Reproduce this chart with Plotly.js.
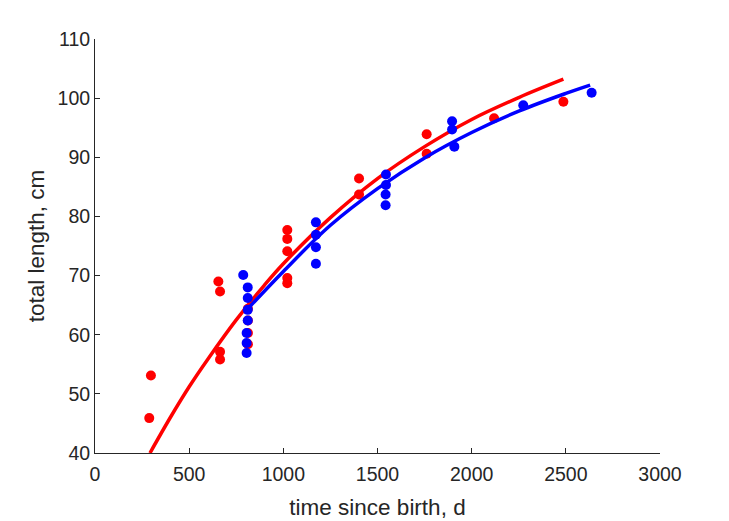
<!DOCTYPE html>
<html>
<head>
<meta charset="utf-8">
<script src="https://cdn.plot.ly/plotly-3.0.1.min.js"></script>
<style>html,body{margin:0;padding:0;background:#fff;}#chart{width:729px;height:521px;}</style>
</head>
<body>
<div id="chart"></div>
<script>
// Observed points, group 1 (red)
const redX = [297, 288, 655, 664, 664, 664, 812, 812, 812, 812, 1021, 1021, 1021, 1021, 1021, 1402, 1402, 1761, 1761, 2119, 2487];
const redY = [53.1, 45.9, 69.0, 67.3, 57.1, 55.8, 58.4, 60.3, 62.4, 64.4, 77.7, 76.2, 74.1, 69.6, 68.7, 86.4, 83.7, 93.9, 90.6, 96.6, 99.4];
// Observed points, group 2 (blue)
const blueX = [787, 811, 811, 811, 811, 805, 805, 805, 1173, 1173, 1173, 1173, 1545, 1545, 1543, 1543, 1896, 1896, 1908, 2274, 2637];
const blueY = [70.1, 68.0, 66.2, 64.2, 62.4, 60.3, 58.6, 56.9, 79.0, 76.9, 74.8, 72.0, 87.1, 85.3, 83.7, 81.9, 96.1, 94.7, 91.8, 98.8, 100.9];
// Fitted growth curves
const redCurveX = [292, 400, 500, 600, 750, 900, 1000, 1250, 1500, 1750, 2000, 2250, 2487];
const redCurveY = [40.0, 46.0, 51.2, 55.9, 62.5, 68.4, 72.0, 79.8, 86.4, 91.8, 96.4, 100.1, 103.2];
const blueCurveX = [806, 1000, 1250, 1500, 1750, 2000, 2250, 2500, 2629];
const blueCurveY = [64.2, 70.7, 78.5, 84.7, 89.9, 94.2, 97.8, 100.8, 102.2];
// Axis labels
const xTitle = 'time since birth, d';
const yTitle = 'total length, cm';

const RED = '#FF0000', BLUE = '#0000FF', INK = '#262626';
const FONT = 'Liberation Sans, Arial, Helvetica, sans-serif';

const traces = [
  {x: redX, y: redY, type: 'scatter', mode: 'markers', marker: {color: RED, size: 10}, hoverinfo: 'skip'},
  {x: redCurveX, y: redCurveY, type: 'scatter', mode: 'lines', line: {color: RED, width: 3.5, shape: 'spline'}, hoverinfo: 'skip'},
  {x: blueX, y: blueY, type: 'scatter', mode: 'markers', marker: {color: BLUE, size: 10}, hoverinfo: 'skip'},
  {x: blueCurveX, y: blueCurveY, type: 'scatter', mode: 'lines', line: {color: BLUE, width: 3.5, shape: 'spline'}, hoverinfo: 'skip'}
];

const layout = {
  width: 729, height: 521,
  margin: {l: 95, r: 69, t: 39, b: 68},
  paper_bgcolor: '#fff', plot_bgcolor: '#fff',
  showlegend: false,
  font: {family: FONT, color: INK, size: 19},
  xaxis: {
    range: [0, 3000], dtick: 500, tick0: 0,
    ticks: 'inside', ticklen: 5, tickwidth: 1, tickcolor: INK,
    showline: true, linecolor: INK, linewidth: 1,
    showgrid: false, zeroline: false, automargin: false,
    ticklabelstandoff: 4,
    tickfont: {family: FONT, size: 19.5, color: INK},
    title: {text: xTitle, font: {family: FONT, size: 22.5, color: INK}, standoff: 14}
  },
  yaxis: {
    range: [40, 110], dtick: 10, tick0: 40,
    ticks: 'inside', ticklen: 5, tickwidth: 1, tickcolor: INK,
    showline: true, linecolor: INK, linewidth: 1,
    showgrid: false, zeroline: false, automargin: false,
    tickfont: {family: FONT, size: 19.5, color: INK},
    title: {text: yTitle, font: {family: FONT, size: 22.5, color: INK}, standoff: 6}
  }
};

Plotly.newPlot('chart', traces, layout, {staticPlot: true, displayModeBar: false});
</script>
</body>
</html>
